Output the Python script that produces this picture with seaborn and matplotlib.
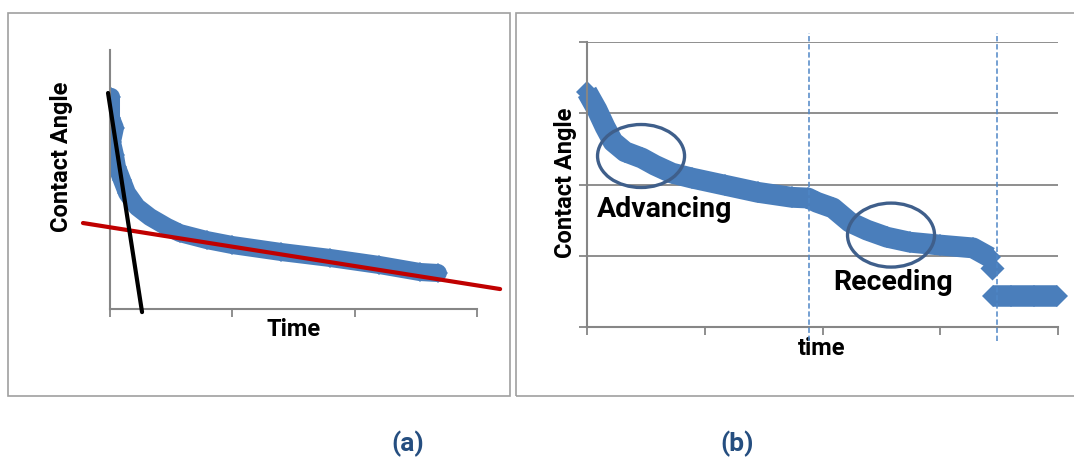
import matplotlib
matplotlib.use("Agg")
import matplotlib.pyplot as plt
import seaborn as sns
import pandas as pd
from matplotlib.patches import Ellipse, Rectangle

# ---------------- data ----------------
# Panel (a): contact angle vs time (arbitrary units, no tick labels)
a_time = [0.008, 0.008, 0.04, 0.016, 0.04, 0.057, 0.098, 0.139, 0.22, 0.327,
          0.466, 0.572, 0.793, 1.0, 1.4, 1.8, 2.2, 2.53, 2.68]
a_angle = [81.9, 73.7, 69.9, 64.5, 59.5, 54.8, 49.8, 44.8, 39.4, 35.5,
           31.7, 29.3, 26.6, 24.7, 22.0, 19.7, 17.0, 14.3, 13.9]
a_steep_time = [-0.016, 0.262]
a_steep_angle = [83.4, -1.2]
a_slow_time = [-0.221, 3.189]
a_slow_angle = [33.2, 7.7]
a_xticks = [0, 1, 2, 3]

# Panel (b)
b_time = [0.0, 0.085, 0.153, 0.221, 0.323, 0.467, 0.577, 0.722, 0.892, 1.172,
          1.452, 1.741, 1.877, 1.953, 2.089, 2.233, 2.378, 2.548, 2.743, 2.998,
          3.278, 3.42]
b_angle = [3.30, 3.05, 2.81, 2.60, 2.46, 2.37, 2.27, 2.16, 2.09, 1.99,
           1.89, 1.82, 1.81, 1.75, 1.67, 1.47, 1.36, 1.26, 1.19, 1.15,
           1.11, 0.98]
b_drop_time = [3.44]
b_drop_angle = [0.83]
b_low_time = [3.45, 3.6, 3.8, 3.99]
b_low_angle = [0.435, 0.435, 0.435, 0.435]
b_phase_x = [1.885, 3.48]
b_ticks = [0, 1, 2, 3, 4]
b_labels = ["Advancing", "Receding"]

dfa = pd.DataFrame({"time": a_time, "angle": a_angle})
dfb = pd.DataFrame({"time": b_time, "angle": b_angle})
dfb_low = pd.DataFrame({"time": b_low_time, "angle": b_low_angle})

# ---------------- style ----------------
sns.set_theme(style="white")
plt.rcParams["font.family"] = ["Roboto", "DejaVu Sans"]

BLUE = "#4A7EBB"
AXC = "#868686"
GRID = "#8E8E8E"
BORDER = "#A0A0A0"
ELL = "#3F5F8B"
LAB = "#254E80"

W, H = 1074, 458
fig = plt.figure(figsize=(W / 100, H / 100), dpi=100)
fig.patch.set_facecolor("white")


def fx(px):
    return px / W


def fy(py):
    return 1 - py / H


# panel borders
fig.patches.append(Rectangle((fx(8), fy(396)), fx(510) - fx(8), fy(13) - fy(396),
                             transform=fig.transFigure, fill=False,
                             edgecolor=BORDER, linewidth=1.2))
fig.patches.append(Rectangle((fx(516), fy(396)), fx(1090) - fx(516), fy(13) - fy(396),
                             transform=fig.transFigure, fill=False,
                             edgecolor=BORDER, linewidth=1.2, clip_on=False))

line_common = dict(sort=False, estimator=None, color=BLUE, marker="D",
                   markeredgewidth=0, markeredgecolor=BLUE, markerfacecolor=BLUE)

# ---------------- panel (a) ----------------
axa = fig.add_axes([fx(110), fy(309), fx(477) - fx(110), fy(50) - fy(309)])
sns.lineplot(data=dfa, x="time", y="angle", ax=axa, linewidth=13,
             solid_capstyle="round", solid_joinstyle="round",
             markersize=10.5, zorder=2, **line_common)
sns.lineplot(x=a_slow_time, y=a_slow_angle, ax=axa, sort=False, estimator=None,
             color="#C00000", linewidth=3.0, clip_on=False, zorder=3)
sns.lineplot(x=a_steep_time, y=a_steep_angle, ax=axa, sort=False, estimator=None,
             color="black", linewidth=3.0, clip_on=False, zorder=4)
axa.set_xlim(0, 3)
axa.set_ylim(0, 100)
axa.set_xticks(a_xticks)
axa.set_yticks([])
axa.tick_params(axis="x", direction="out", length=6, width=1.3, color=AXC,
                labelbottom=False, bottom=True)
for s in ["top", "right"]:
    axa.spines[s].set_visible(False)
for s in ["left", "bottom"]:
    axa.spines[s].set_color(AXC)
    axa.spines[s].set_linewidth(1.5)
axa.set_facecolor("none")
axa.set_xlabel("Time", fontsize=17, fontweight="bold", color="black", va="center")
axa.xaxis.set_label_coords(0.499, -0.081)
axa.set_ylabel("Contact Angle", fontsize=17, fontweight="bold", color="black", va="center")
axa.yaxis.set_label_coords(-0.131, 0.587)

# ---------------- panel (b) ----------------
axb = fig.add_axes([fx(587), fy(327), fx(1058) - fx(587), fy(42) - fy(327)])
axb.set_xlim(0, 4)
axb.set_ylim(0, 4)
axb.set_xticks(b_ticks)
axb.set_yticks(b_ticks)
axb.yaxis.grid(True, color=GRID, linewidth=1.4)
axb.xaxis.grid(False)
axb.set_axisbelow(True)
sns.lineplot(data=dfb, x="time", y="angle", ax=axb, linewidth=15,
             solid_capstyle="butt", solid_joinstyle="round",
             markersize=11, clip_on=False, zorder=2, **line_common)
sns.scatterplot(x=b_drop_time, y=b_drop_angle, ax=axb, color=BLUE, marker="D",
                s=150, linewidth=0, clip_on=False, zorder=2)
sns.lineplot(data=dfb_low, x="time", y="angle", ax=axb, linewidth=15.5,
             solid_capstyle="butt", markersize=11, clip_on=False, zorder=2,
             **line_common)
for xv in b_phase_x:
    axb.axvline(xv, ymin=-0.05, ymax=1.03, color="#4F86C6", linewidth=1.1,
                linestyle=(0, (3.5, 1.8)), clip_on=False, zorder=3)
axb.add_patch(Ellipse((0.459, 2.40), 0.739, 0.884, fill=False, edgecolor=ELL,
                      linewidth=2.4, zorder=4))
axb.add_patch(Ellipse((2.582, 1.29), 0.739, 0.898, fill=False, edgecolor=ELL,
                      linewidth=2.4, zorder=4))
axb.text(0.66, 1.645, b_labels[0], fontsize=20.5, fontweight="bold", color="black",
         ha="center", va="center", zorder=5)
axb.text(2.60, 0.62, b_labels[1], fontsize=20.5, fontweight="bold", color="black",
         ha="center", va="center", zorder=5)
axb.tick_params(axis="both", direction="out", length=6, width=1.3, color=AXC,
                labelbottom=False, labelleft=False, bottom=True, left=True)
for s in ["top", "right"]:
    axb.spines[s].set_visible(False)
for s in ["left", "bottom"]:
    axb.spines[s].set_color(AXC)
    axb.spines[s].set_linewidth(1.5)
axb.set_facecolor("none")
axb.set_xlabel("time", fontsize=17, fontweight="bold", color="black", va="center")
axb.xaxis.set_label_coords(0.499, -0.074)
axb.set_ylabel("Contact Angle", fontsize=17, fontweight="bold", color="black", va="center")
axb.yaxis.set_label_coords(-0.0446, 0.505)

# panel captions
fig.text(fx(408), fy(444), "(a)", fontsize=19, fontweight="bold", color=LAB,
         ha="center", va="center")
fig.text(fx(737), fy(444), "(b)", fontsize=19, fontweight="bold", color=LAB,
         ha="center", va="center")

fig.savefig("out.png", dpi=100)
